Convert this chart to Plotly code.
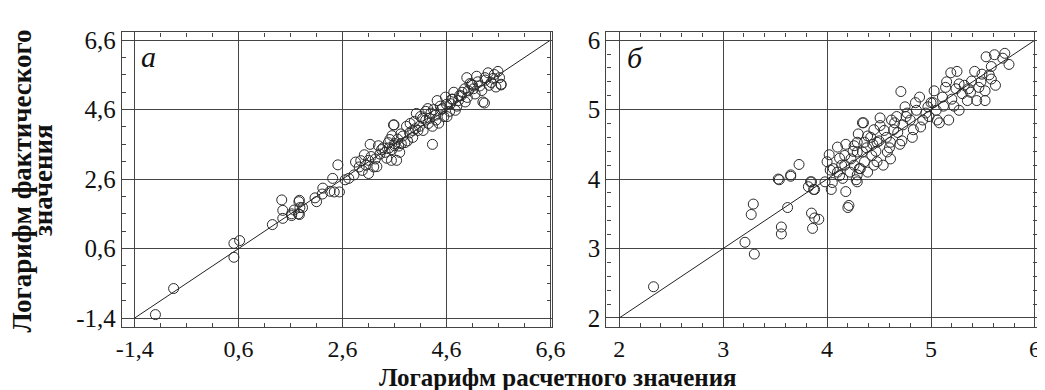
import plotly.graph_objects as go

# ---------------- data: panel "а" ----------------
a_x = [-1.0, -0.65, 0.51, 0.62, 0.51, 1.25, 1.43, 1.45, 1.45, 1.62, 1.76, 1.75, 1.83,
       1.62, 1.77, 1.78, 1.77, 1.67, 2.07, 2.1, 2.22, 2.21, 2.36, 2.41, 2.51, 2.44, 2.54,
       2.65, 2.72, 2.82, 2.85, 2.95, 2.98, 3.1, 3.1, 3.13, 3.23, 3.29, 3.32, 3.42, 3.48,
       3.6, 3.66, 3.73, 3.64, 3.54, 3.26, 3.7, 3.58, 3.51, 3.6, 3.76, 3.83, 3.89, 3.98,
       4.02, 4.08, 4.14, 4.24, 4.27, 4.33, 4.33, 4.39, 4.42, 4.45, 4.52, 4.58, 4.61, 4.68,
       4.74, 4.77, 4.83, 4.9, 4.96, 4.99, 5.02, 5.08, 5.15, 5.18, 5.24, 5.3, 5.34, 5.4,
       5.46, 5.52, 5.59, 5.65, 5.62, 5.65, 5.33, 3.59, 2.92, 3.02, 3.38, 3.55, 3.95, 4.2,
       4.5, 4.7, 4.85, 5.1, 4.05, 4.35, 3.85,
       3.05, 3.15, 3.2, 3.35, 3.45, 3.5, 3.55, 3.68, 3.72, 3.8, 3.9, 3.95, 4.0, 4.1, 4.15,
       4.2, 4.25, 4.3, 4.4, 4.48, 4.55, 4.6, 4.66, 4.72, 4.8, 4.88, 4.95, 5.0, 5.05, 5.12,
       5.2, 5.28, 5.35, 5.42, 5.5, 5.55]
a_y = [-1.3, -0.55, 0.75, 0.83, 0.35, 1.29, 2.0, 1.7, 1.47, 1.6, 1.95, 1.6, 1.78,
       1.55, 1.99, 1.78, 1.58, 1.71, 2.06, 1.95, 2.34, 2.17, 2.25, 2.62, 3.01, 2.23, 2.23,
       2.58, 2.62, 2.72, 3.09, 3.13, 2.85, 2.76, 3.14, 3.6, 3.18, 3.56, 3.32, 3.37, 3.65,
       3.62, 3.75, 3.62, 3.14, 3.14, 2.96, 3.37, 4.16, 3.74, 3.56, 3.84, 4.12, 3.93, 4.26,
       4.49, 4.12, 4.35, 4.63, 4.35, 3.6, 4.12, 4.44, 4.86, 4.21, 4.63, 4.96, 4.4, 4.77,
       5.1, 4.58, 4.86, 5.1, 4.82, 5.52, 5.14, 5.33, 5.05, 5.56, 5.28, 4.82, 5.52, 5.66,
       5.38, 5.61, 5.7, 5.33, 5.52, 5.31, 4.79, 4.16, 2.95, 3.3, 3.5, 3.45, 4.0, 4.3,
       4.6, 4.9, 5.0, 5.3, 4.0, 4.6, 3.7,
       3.0, 3.25, 2.95, 3.45, 3.2, 3.5, 3.85, 3.55, 3.9, 3.65, 4.2, 3.8, 4.05, 4.4, 4.0,
       4.55, 4.2, 4.5, 4.3, 4.7, 4.4, 4.75, 4.55, 4.9, 4.7, 5.0, 5.2, 4.95, 5.35, 5.2,
       5.4, 5.15, 5.45, 5.3, 5.5, 5.25]

# ---------------- data: panel "б" ----------------
b_x = [2.33, 3.21, 3.3, 3.29, 3.27, 3.56, 3.56, 3.62, 3.53, 3.65, 3.73, 3.85, 3.92,
       3.88, 3.86, 3.84, 3.82, 3.87, 4.03, 3.98, 4.04, 4.1, 4.1, 4.17, 4.18, 4.2, 4.15,
       4.23, 4.28, 4.29, 4.29, 4.34, 4.36, 3.65, 3.54, 3.85, 3.88, 4.21, 4.29, 4.35, 4.39,
       4.43, 4.51, 4.48, 4.54, 4.61, 4.64, 4.67, 4.71, 4.72, 4.75, 4.8, 4.83, 4.86, 4.89,
       4.92, 4.97, 5.03, 5.05, 5.08, 5.11, 5.14, 5.17, 5.19, 5.25, 5.27, 5.27, 5.3, 5.35,
       5.39, 5.44, 5.46, 5.49, 5.52, 5.52, 5.58, 5.58, 5.53, 5.61, 5.71, 5.75, 5.69,
       4.26, 4.34, 4.48, 4.61, 4.36, 4.26, 4.17, 4.14, 4.06, 4.39, 4.29, 4.58, 4.51,
       4.45, 4.68, 4.73, 4.65, 4.95, 5.0, 5.22, 5.36, 4.44, 4.57, 4.77, 4.12, 4.31,
       4.0, 4.05, 4.12, 4.22, 4.25, 4.32, 4.38, 4.42, 4.47, 4.5, 4.55, 4.6, 4.62, 4.7,
       4.76, 4.82, 4.85, 4.9, 4.98, 5.02, 5.06, 5.12, 5.15, 5.2, 5.24, 5.32, 5.38, 5.42,
       5.48, 5.56, 5.62, 4.3, 4.45, 4.02, 4.18]
b_y = [2.45, 3.09, 2.92, 3.64, 3.49, 3.31, 3.21, 3.59, 4.0, 4.04, 4.21, 3.51, 3.42,
       3.44, 3.29, 3.96, 3.89, 3.85, 4.13, 3.96, 3.85, 4.46, 4.1, 4.2, 3.82, 3.59, 4.01,
       4.29, 3.99, 4.53, 4.39, 4.81, 4.25, 4.06, 3.99, 3.96, 3.85, 3.62, 3.96, 4.81, 4.62,
       4.34, 4.88, 4.53, 4.2, 4.29, 4.71, 4.9, 5.26, 4.55, 5.04, 4.85, 4.71, 4.99, 5.18,
       4.85, 5.04, 5.27, 4.99, 4.81, 5.18, 5.32, 4.85, 5.53, 5.55, 5.37, 4.99, 5.23, 5.13,
       5.41, 5.13, 5.32, 5.51, 5.27, 5.13, 5.62, 5.44, 5.76, 5.79, 5.81, 5.65, 5.74,
       4.2, 4.39, 4.25, 4.53, 4.53, 4.48, 4.34, 4.2, 4.15, 4.1, 4.06, 4.39, 4.77,
       4.71, 4.67, 4.78, 4.81, 4.95, 5.1, 5.05, 5.3, 4.5, 4.6, 4.95, 4.3, 4.15,
       4.25, 3.95, 4.05, 4.1, 4.4, 4.15, 4.45, 4.6, 4.4, 4.55, 4.7, 4.45, 4.85, 4.5,
       4.9, 4.6, 5.1, 4.75, 4.9, 5.1, 4.85, 5.05, 5.4, 5.15, 5.3, 5.35, 5.25, 5.55,
       5.4, 5.5, 5.35, 4.65, 4.2, 4.35, 4.5]

# identity lines
a_line = [-1.4, 6.6]
b_line = [2, 6]

a_ticks = [-1.4, 0.6, 2.6, 4.6, 6.6]
a_ticktext = ["-1,4", "0,6", "2,6", "4,6", "6,6"]
b_ticks = [2, 3, 4, 5, 6]
b_ticktext = ["2", "3", "4", "5", "6"]

SERIF = "Liberation Serif, Times New Roman, serif"
GRID = "#454545"

fig = go.Figure()
marker = dict(symbol="circle-open", size=10, color="#2a2a2a", line=dict(width=1))

fig.add_trace(go.Scatter(x=a_line, y=a_line, mode="lines", line=dict(color="#222", width=1),
                         xaxis="x", yaxis="y", showlegend=False))
fig.add_trace(go.Scatter(x=a_x, y=a_y, mode="markers", marker=marker,
                         xaxis="x", yaxis="y", showlegend=False))
fig.add_trace(go.Scatter(x=b_line, y=b_line, mode="lines", line=dict(color="#222", width=1),
                         xaxis="x2", yaxis="y2", showlegend=False))
fig.add_trace(go.Scatter(x=b_x, y=b_y, mode="markers", marker=marker,
                         xaxis="x2", yaxis="y2", showlegend=False))

W, H = 1045, 390
ydom = [1 - 322 / H, 1 - 20 / H]


def axis(dom, rng, tv, tt, minor_dtick, minor_t0, anchor, fsize):
    return dict(domain=dom, range=rng, tickvals=tv, ticktext=tt, anchor=anchor,
                showgrid=True, gridcolor=GRID, gridwidth=1.3,
                showline=True, linecolor="#444", linewidth=1.2, mirror="ticks",
                ticks="inside", ticklen=4, tickcolor="#444", zeroline=False,
                minor=dict(dtick=minor_dtick, tick0=minor_t0, ticks="inside", ticklen=4,
                           tickcolor="#444", showgrid=False),
                tickfont=dict(family=SERIF, size=fsize, color="#111"))


fig.update_layout(
    width=W, height=H,
    margin=dict(l=0, r=0, t=0, b=0),
    paper_bgcolor="white", plot_bgcolor="white",
    xaxis=axis([110 / W, 548 / W], [-1.645, 6.62], a_ticks, a_ticktext, 0.5, -1.4, "y", 24),
    yaxis=axis(ydom, [-1.65, 6.82], a_ticks, a_ticktext, 0.5, -1.4, "x", 25),
    xaxis2=axis([604 / W, 1043 / W], [1.877, 6.02], b_ticks, b_ticktext, 0.2, 2, "y2", 24),
    yaxis2=axis(ydom, [1.874, 6.11], b_ticks, b_ticktext, 0.2, 2, "x2", 25),
    annotations=[
        dict(text="<i>а</i>", x=0.062, y=0.92, xref="x domain", yref="y domain",
             xanchor="center", yanchor="middle", showarrow=False,
             font=dict(family=SERIF, size=30, color="#111")),
        dict(text="<i>б</i>", x=0.066, y=0.915, xref="x2 domain", yref="y2 domain",
             xanchor="center", yanchor="middle", showarrow=False,
             font=dict(family=SERIF, size=30, color="#111")),
        dict(text="<b>Логарифм расчетного значения</b>", x=555 / W, y=1 - 374 / H,
             xref="paper", yref="paper", showarrow=False,
             xanchor="center", yanchor="middle",
             font=dict(family=SERIF, size=25, color="#111")),
        dict(text="<b>Логарифм фактического</b>", x=8 / W, y=1 - 172 / H,
             xref="paper", yref="paper", showarrow=False, textangle=-90,
             xanchor="center", yanchor="middle",
             font=dict(family=SERIF, size=27, color="#111")),
        dict(text="<b>значения</b>", x=29 / W, y=1 - 171 / H,
             xref="paper", yref="paper", showarrow=False, textangle=-90,
             xanchor="center", yanchor="middle",
             font=dict(family=SERIF, size=27, color="#111")),
    ],
)

fig.write_html("out.html")
